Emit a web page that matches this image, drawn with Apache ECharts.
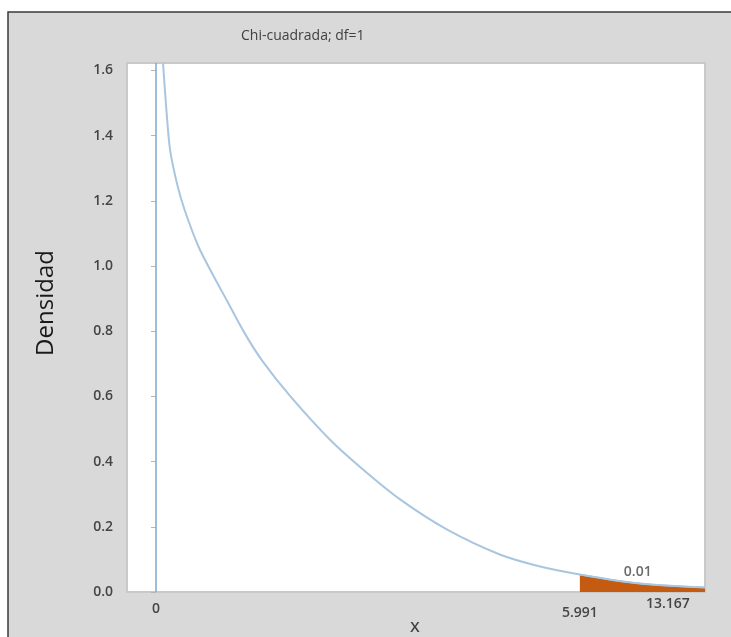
<!DOCTYPE html>
<html>
<head>
<meta charset="utf-8">
<script src="https://cdn.jsdelivr.net/npm/echarts@6/dist/echarts.min.js"></script>
<style>
html,body{margin:0;padding:0;background:#ffffff;}
#chart{width:731px;height:637px;}
</style>
</head>
<body>
<div id="chart"></div>
<script>
// Density curve
var curveX = [0.099, 0.15, 0.2, 0.3, 0.4, 0.6, 0.8, 1.0, 1.25, 1.5, 1.9, 2.46, 2.93, 3.45, 4.11, 4.86, 5.4, 5.991, 6.84, 7.76];
var curveY = [1.623, 1.47, 1.355, 1.25, 1.175, 1.06, 0.975, 0.895, 0.795, 0.71, 0.60, 0.467, 0.375, 0.284, 0.192, 0.115, 0.08, 0.054, 0.026, 0.014];
var criticalX = 5.991;
var refLineX = [0];
var yTicks = [0, 0.2, 0.4, 0.6, 0.8, 1.0, 1.2, 1.4, 1.6];
var xTickValues = [0, 5.991, 7.235];
var xTickLabels = ['0', '5.991', '13.167'];
var xTickStyles = ['a', 'b', 'c'];
var tailProbLabel = '0.01';
var tailProbPos = [6.81, 0.062];
var titleText = 'Chi-cuadrada; df=1';
var yName = 'Densidad';
var xName = 'X';

var curve = curveX.map(function (x, i) { return [x, curveY[i]]; });
var tail = curve.filter(function (p) { return p[0] >= criticalX; });

var chart = echarts.init(document.getElementById('chart'), null, {renderer: 'canvas'});
var tickFont = {fontFamily: 'Open Sans', fontSize: 14, fontWeight: 600, color: '#454545'};

chart.setOption({
  animation: false,
  backgroundColor: '#ffffff',
  graphic: [{
    type: 'rect', z: -10, silent: true,
    shape: {x: 8, y: 12, width: 740, height: 640},
    style: {fill: '#d9d9d9', stroke: '#3a3a3a', lineWidth: 1.5}
  }, {
    type: 'text', z: 10, silent: true,
    x: 46, y: 303, rotation: Math.PI / 2,
    style: {text: yName, fontFamily: 'Open Sans', fontSize: 24, fill: '#1a1a1a', align: 'center', verticalAlign: 'middle'}
  }, {
    type: 'text', z: 10, silent: true,
    x: 415, y: 628,
    style: {text: xName, fontFamily: 'Open Sans', fontSize: 15, fontWeight: 600, fill: '#404040', align: 'center', verticalAlign: 'middle'}
  }],
  title: {
    text: titleText, left: 236, top: 24,
    textStyle: {fontFamily: 'Open Sans', fontSize: 14, fontWeight: 'normal', color: '#404040'}
  },
  grid: {
    left: 127, top: 63, right: 26, bottom: 45,
    outerBoundsMode: 'none', containLabel: false,
    show: true, backgroundColor: '#ffffff', borderColor: '#c9c9c9', borderWidth: 2
  },
  xAxis: {
    type: 'value', min: -0.41, max: 7.76,
    axisLine: {show: false}, axisTick: {show: false}, splitLine: {show: false},
    axisLabel: {
      customValues: xTickValues, margin: 5,
      formatter: function (v) {
        var i = xTickValues.indexOf(v);
        return i < 0 ? '' : '{' + xTickStyles[i] + '|' + xTickLabels[i] + '}';
      },
      rich: {
        a: Object.assign({padding: [5, 0, 0, 0]}, tickFont),
        b: Object.assign({padding: [9, 0, 0, 0]}, tickFont),
        c: Object.assign({padding: [0, 0, 0, 0]}, tickFont)
      }
    }
  },
  yAxis: {
    type: 'value', min: 0, max: 1.623, interval: 0.2, offset: 3,
    axisLine: {show: false},
    axisTick: {show: true, customValues: yTicks, length: 5, lineStyle: {color: '#b5b5b5', width: 1}},
    splitLine: {show: false},
    axisLabel: Object.assign({
      customValues: yTicks, margin: 11,
      formatter: function (v) { return v.toFixed(1); }
    }, tickFont)
  },
  series: [{
    type: 'line', data: tail, symbol: 'none', smooth: 0.3, z: 2,
    lineStyle: {color: '#a9c6e0', width: 1.5},
    areaStyle: {color: '#c55a11', opacity: 1}
  }, {
    type: 'line', data: curve, symbol: 'none', smooth: 0.3, z: 3, clip: true,
    lineStyle: {color: '#a9c6e0', width: 2},
    markLine: {
      silent: true, symbol: 'none', animation: false,
      label: {show: false},
      lineStyle: {color: '#7ea7cc', width: 1.5, type: 'solid'},
      data: refLineX.map(function (x) { return {xAxis: x}; })
    }
  }, {
    type: 'scatter', data: [tailProbPos], symbolSize: 1, z: 4,
    itemStyle: {color: 'transparent'},
    label: Object.assign({show: true, position: 'inside', formatter: tailProbLabel}, tickFont)
  }]
});
</script>
</body>
</html>
